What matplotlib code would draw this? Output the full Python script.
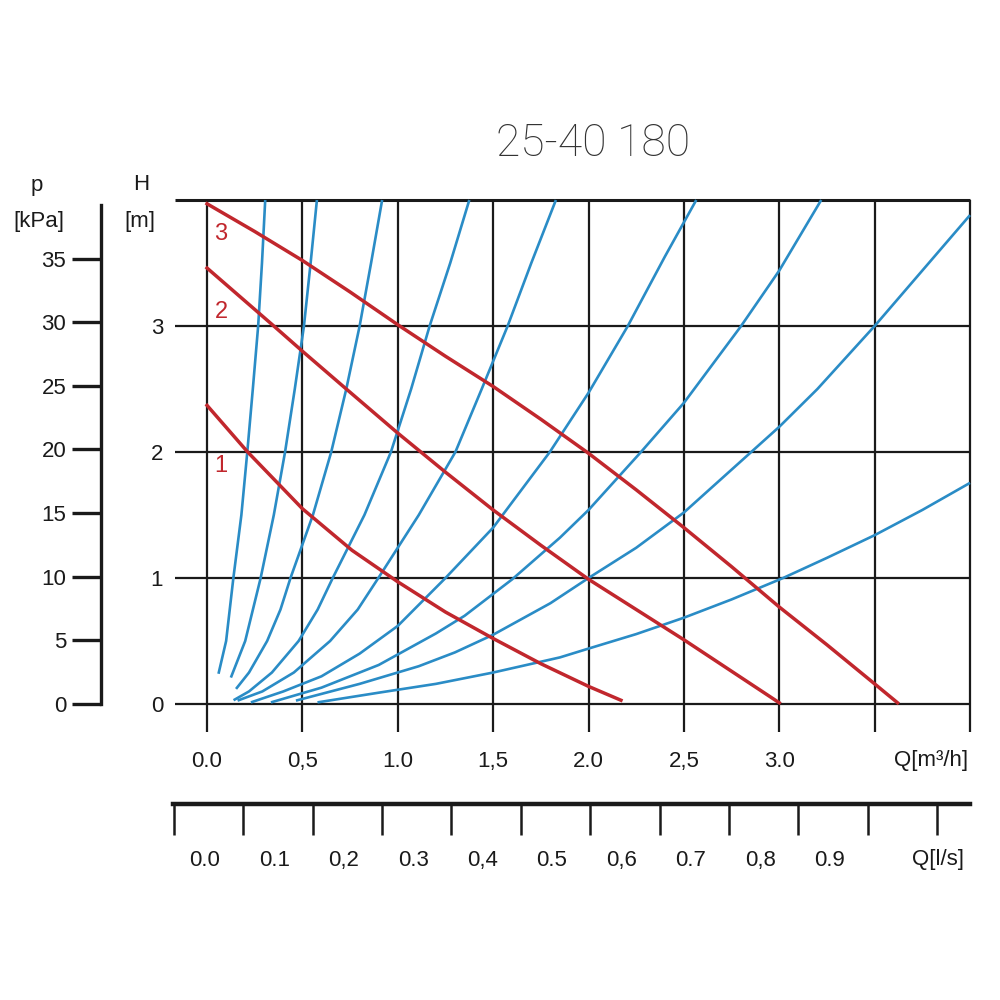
import numpy as np
import matplotlib
matplotlib.use("Agg")
import matplotlib.pyplot as plt

plt.rcParams['font.family'] = ['Liberation Sans', 'DejaVu Sans']

# pump curves (speed 1..3), Q in m3/h, H in m
pump_q = {
    '1': [0.0, 0.213, 0.5, 0.76, 1.0, 1.25, 1.5, 1.75, 2.0, 2.17],
    '2': [0.0, 0.35, 0.5, 0.73, 1.0, 1.25, 1.5, 1.75, 2.0, 2.25, 2.5, 2.75, 3.0],
    '3': [0.0, 0.25, 0.5, 0.75, 1.0, 1.25, 1.5, 1.75, 2.0, 2.25, 2.5, 2.75,
          3.0, 3.25, 3.5, 3.62],
}
pump_h = {
    '1': [2.37, 2.0, 1.55, 1.22, 0.97, 0.73, 0.52, 0.32, 0.14, 0.03],
    '2': [3.46, 3.0, 2.80, 2.50, 2.15, 1.84, 1.54, 1.26, 0.99, 0.75, 0.51,
          0.26, 0.01],
    '3': [3.97, 3.75, 3.52, 3.27, 3.01, 2.76, 2.52, 2.26, 1.99, 1.70, 1.40,
          1.09, 0.77, 0.47, 0.16, 0.01],
}
label_pos = {'1': (0.073, 1.89), '2': (0.073, 3.11), '3': (0.073, 3.73)}

# system curves
sys_q = [
    [0.06, 0.10, 0.138, 0.18, 0.211, 0.24, 0.268, 0.288, 0.305],
    [0.125, 0.20, 0.281, 0.35, 0.409, 0.46, 0.508, 0.543, 0.576],
    [0.152, 0.22, 0.315, 0.385, 0.4375, 0.555, 0.651, 0.73, 0.80, 0.86, 0.918],
    [0.139, 0.22, 0.34, 0.48, 0.58, 0.659, 0.825, 0.964, 1.07, 1.167, 1.275,
     1.375],
    [0.16, 0.29, 0.455, 0.645, 0.79, 0.898, 1.11, 1.302, 1.44, 1.576, 1.70,
     1.829],
    [0.23, 0.4, 0.6, 0.8, 1.0, 1.25, 1.5, 1.797, 2.0, 2.206, 2.4, 2.565],
    [0.335, 0.6, 0.9, 1.2, 1.35, 1.6, 1.85, 2.0, 2.275, 2.5, 2.8, 3.0, 3.22],
    [0.466, 0.8, 1.11, 1.3, 1.5, 1.8, 2.0, 2.25, 2.5, 3.0, 3.2, 3.5, 3.75,
     4.0],
    [0.579, 0.9, 1.2, 1.5, 1.85, 2.0, 2.25, 2.5, 2.75, 3.02, 3.25, 3.5, 3.75,
     4.0],
]
sys_h = [
    [0.24, 0.5, 1.0, 1.5, 2.0, 2.5, 3.0, 3.5, 4.0],
    [0.21, 0.5, 1.0, 1.5, 2.0, 2.5, 3.0, 3.5, 4.0],
    [0.12, 0.25, 0.5, 0.75, 1.0, 1.5, 2.0, 2.5, 3.0, 3.5, 4.0],
    [0.03, 0.1, 0.25, 0.5, 0.75, 1.0, 1.5, 2.0, 2.5, 3.0, 3.5, 4.0],
    [0.027, 0.1, 0.25, 0.5, 0.75, 1.0, 1.5, 2.0, 2.5, 3.0, 3.5, 4.0],
    [0.013, 0.1, 0.22, 0.40, 0.62, 1.0, 1.40, 2.0, 2.47, 3.0, 3.55, 4.0],
    [0.013, 0.13, 0.31, 0.56, 0.70, 0.99, 1.32, 1.54, 2.0, 2.39, 3.0, 3.44,
     4.0],
    [0.027, 0.16, 0.30, 0.41, 0.55, 0.80, 1.0, 1.24, 1.52, 2.20, 2.5, 3.0,
     3.44, 3.88],
    [0.013, 0.09, 0.16, 0.25, 0.37, 0.44, 0.555, 0.685, 0.83, 1.0, 1.16,
     1.34, 1.54, 1.755],
]

q_ticks = [0.0, 0.5, 1.0, 1.5, 2.0, 2.5, 3.0]
q_labels = ['0.0', '0,5', '1.0', '1,5', '2.0', '2,5', '3.0']
h_ticks = [0, 1, 2, 3]
p_ticks = [0, 5, 10, 15, 20, 25, 30, 35]
ls_labels = ['0.0', '0.1', '0,2', '0.3', '0,4', '0.5', '0,6', '0.7', '0,8', '0.9']

RED = '#c1272d'
BLUE = '#2a8cc6'
INK = '#1a1a1a'

fig = plt.figure(figsize=(10, 10), dpi=100)

# main chart
xmin, xmax = -0.168, 4.0
ymin, ymax = -0.222, 4.0
ax = fig.add_axes([0.175, 0.268, 0.795, 0.532])
ax.set_xlim(xmin, xmax)
ax.set_ylim(ymin, ymax)
for s in ax.spines.values():
    s.set_visible(False)
ax.hlines([0, 1, 2, 3], xmin, xmax, color=INK, lw=1.6, clip_on=False, zorder=1)
ax.hlines([4], xmin, xmax, color=INK, lw=2.2, clip_on=False, zorder=1)
ax.vlines(np.arange(0, 4.01, 0.5), ymin, ymax, color=INK, lw=1.6,
          clip_on=False, zorder=1)

for q, h in zip(sys_q, sys_h):
    ax.plot(q, h, color=BLUE, lw=1.9, solid_capstyle='butt', zorder=2,
            clip_on=False)
for k in pump_q:
    ax.plot(pump_q[k], pump_h[k], color=RED, lw=2.5, zorder=3)
    ax.text(*label_pos[k], k, color=RED, fontsize=17, ha='center', va='center')

ax.set_yticks(h_ticks)
ax.set_xticks(q_ticks, q_labels)
ax.tick_params(axis='y', length=0, pad=8.5, labelsize=16, labelcolor=INK)
ax.tick_params(axis='x', length=0, pad=14, labelsize=16, labelcolor=INK)
ax.text(3.99, -0.45, 'Q[m³/h]', ha='right', va='center', fontsize=16, color=INK)

# pressure axis
axp = fig.add_axes([0.101, 0.268, 0.001, 0.532])
axp.set_ylim(ymin * 9.9, ymax * 9.9)
axp.patch.set_visible(False)
for side in ['top', 'right', 'bottom']:
    axp.spines[side].set_visible(False)
axp.spines['left'].set_linewidth(2.4)
axp.spines['left'].set_color(INK)
axp.spines['left'].set_bounds(0, 39.2)
axp.set_xticks([])
axp.set_yticks(p_ticks)
axp.tick_params(axis='y', direction='out', length=21, width=2.4, pad=4,
                labelsize=16, color=INK, labelcolor=INK)

# l/s axis
ls_left, ls_right = -0.0461, 1.1023
axl = fig.add_axes([0.173, 0.196, 0.797, 0.01])
axl.set_xlim(ls_left, ls_right)
axl.patch.set_visible(False)
for side in ['top', 'right', 'left']:
    axl.spines[side].set_visible(False)
axl.spines['bottom'].set_linewidth(3.2)
axl.spines['bottom'].set_color(INK)
axl.set_yticks([])
axl.set_xticks(np.arange(12) * 0.1 - 0.045)
axl.set_xticklabels([])
axl.set_xticks(np.arange(len(ls_labels)) * 0.1, ls_labels, minor=True)
axl.tick_params(axis='x', which='major', direction='out', length=22, width=1.8,
                color=INK)
axl.tick_params(axis='x', which='minor', length=0, pad=33, labelsize=16,
                labelcolor=INK)
axl.text(1.094, -5.5, 'Q[l/s]', ha='right', va='center', fontsize=16,
         color=INK, transform=axl.get_xaxis_transform())

# unit labels and title
fig.text(0.037, 1 - 0.186, 'p', ha='center', va='center', fontsize=16, color=INK)
fig.text(0.039, 1 - 0.221, '[kPa]', ha='center', va='center', fontsize=16, color=INK)
fig.text(0.1407, 1 - 0.185, 'H', ha='center', va='center', fontsize=16, color=INK)
fig.text(0.140, 1 - 0.221, '[m]', ha='center', va='center', fontsize=16, color=INK)
fig.text(0.593, 1 - 0.1435, '25-40 180', ha='center', va='center', fontsize=32,
         family=['Roboto', 'DejaVu Sans'], weight='light', color='#333333')

fig.savefig('out.png', dpi=100)
